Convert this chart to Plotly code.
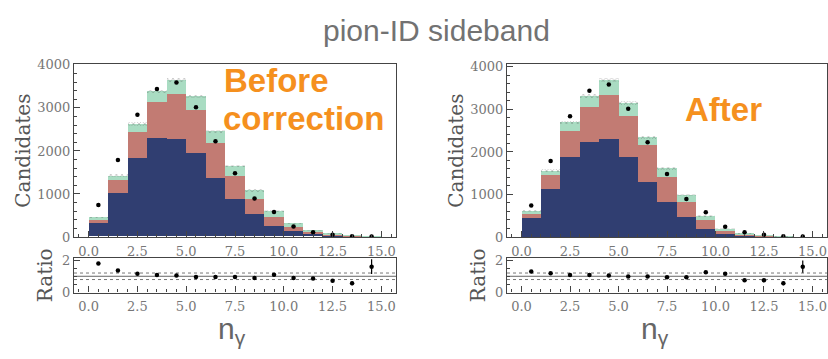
import plotly.graph_objects as go

# Photon multiplicity bins (unit width, 0..15)
bin_centers = [i + 0.5 for i in range(15)]

# Observed candidates per bin (same data in both panels)
data_counts = [743, 1790, 2839, 3440, 3589, 3017, 2227, 1481, 892, 582, 242, 112, 52, 15, 12]

# Simulation components before the correction
before_comp1 = [317, 1005, 1828, 2299, 2270, 1938, 1371, 863, 531, 251, 125, 66, 30, 10, 3]
before_comp2 = [74, 305, 604, 833, 1046, 995, 810, 554, 340, 207, 96, 44, 22, 10, 3]
before_comp3 = [52, 105, 184, 243, 332, 324, 266, 221, 199, 132, 89, 38, 22, 8, 3]
before_unc = [18, 28, 38, 42, 46, 42, 38, 32, 28, 22, 14, 9, 6, 4, 3]
before_ratio = [1.78, 1.35, 1.16, 1.08, 1.04, 0.96, 0.96, 0.96, 0.90, 1.10, 0.90, 0.86, 0.72, 0.57, 1.59]
before_ratio_err = [0.04, 0.03, 0.02, 0.02, 0.02, 0.02, 0.02, 0.02, 0.03, 0.04, 0.05, 0.06, 0.08, 0.12, 0.45]

# Simulation components after the correction
after_comp1 = [449, 1136, 1884, 2243, 2318, 1884, 1308, 845, 491, 204, 91, 53, 25, 10, 3]
after_comp2 = [112, 322, 621, 822, 1032, 980, 860, 566, 354, 211, 60, 22, 15, 8, 3]
after_comp3 = [60, 112, 202, 262, 351, 291, 187, 212, 159, 91, 53, 23, 12, 7, 2]
after_unc = [20, 30, 40, 44, 48, 44, 38, 32, 26, 20, 12, 8, 6, 4, 3]
after_ratio = [1.29, 1.18, 1.08, 1.08, 1.04, 0.98, 0.98, 0.94, 0.94, 1.25, 1.16, 0.76, 0.75, 0.57, 1.59]
after_ratio_err = [0.04, 0.03, 0.02, 0.02, 0.02, 0.02, 0.02, 0.02, 0.03, 0.05, 0.06, 0.06, 0.08, 0.12, 0.38]

x_ticks = [0, 2.5, 5, 7.5, 10, 12.5, 15]
x_ticktext = ["0.0", "2.5", "5.0", "7.5", "10.0", "12.5", "15.0"]
y_ticks = [0, 1000, 2000, 3000, 4000]
ratio_ticks = [0, 2]

C_BLUE = "#303e71"
C_RED = "#c27b73"
C_GREEN = "#a9dcc2"
FRAME = "#444444"
TICKFONT = dict(family="DejaVu Serif", size=13, color="#777777")

W, H = 828, 359


def px_x(p):
    return p / W


def px_y(p):
    return 1 - p / H


fig = go.Figure()


def add_panel(xa, ya, xr, yr, comps, unc, ratio, ratio_err):
    c1, c2, c3 = comps
    base2 = [a for a in c1]
    base3 = [a + b for a, b in zip(c1, c2)]
    total = [a + b + c for a, b, c in zip(c1, c2, c3)]
    common = dict(x=bin_centers, width=1.0, xaxis=xa, yaxis=ya, showlegend=False,
                  hoverinfo="skip")
    fig.add_trace(go.Bar(y=c1, base=[0] * len(c1), marker=dict(color=C_BLUE, line_width=0), **common))
    fig.add_trace(go.Bar(y=c2, base=base2, marker=dict(color=C_RED, line_width=0), **common))
    fig.add_trace(go.Bar(y=c3, base=base3, marker=dict(color=C_GREEN, line_width=0), **common))
    # hatched simulation uncertainty band around the stacked total
    fig.add_trace(go.Bar(y=[2 * u for u in unc], base=[t - u for t, u in zip(total, unc)],
                         marker=dict(color="rgba(0,0,0,0)", line_width=0,
                                     pattern=dict(shape="x", fgcolor="#4a4a4a", size=4,
                                                  solidity=0.25, fillmode="overlay")),
                         **common))
    fig.add_trace(go.Scatter(x=bin_centers, y=data_counts, mode="markers", xaxis=xa, yaxis=ya,
                             marker=dict(color="black", size=4.5), showlegend=False,
                             hoverinfo="skip"))
    # ratio panel
    fig.add_trace(go.Scatter(x=bin_centers, y=ratio, mode="markers", xaxis=xr, yaxis=yr,
                             marker=dict(color="black", size=4.5),
                             error_y=dict(type="data", array=ratio_err, color="black",
                                          thickness=1.2, width=0),
                             showlegend=False, hoverinfo="skip"))


add_panel("x", "y", "x2", "y2", (before_comp1, before_comp2, before_comp3), before_unc,
          before_ratio, before_ratio_err)
add_panel("x3", "y3", "x4", "y4", (after_comp1, after_comp2, after_comp3), after_unc,
          after_ratio, after_ratio_err)

xrange = [-0.75, 15.75]


def xaxis_cfg(dom, anchor):
    return dict(domain=dom, anchor=anchor, range=xrange, tickvals=x_ticks, ticktext=x_ticktext,
                ticks="inside", ticklen=6, tickwidth=1, tickcolor=FRAME,
                minor=dict(dtick=0.5, tick0=0, ticks="inside", ticklen=3, tickcolor=FRAME),
                showline=True, linecolor=FRAME, linewidth=1.3, mirror=True,
                showgrid=False, zeroline=False, tickfont=TICKFONT, ticklabelstandoff=2)


def yaxis_cfg(dom, anchor, rng, vals, minor_dt):
    return dict(domain=dom, anchor=anchor, range=rng, tickvals=vals,
                ticks="inside", ticklen=6, tickwidth=1, tickcolor=FRAME,
                minor=dict(dtick=minor_dt, tick0=0, ticks="inside", ticklen=3, tickcolor=FRAME),
                showline=True, linecolor=FRAME, linewidth=1.3, mirror=True,
                showgrid=False, zeroline=False, tickfont=TICKFONT)


left_dom = [px_x(74), px_x(396)]
right_dom = [px_x(507), px_x(827)]
main_dom_l = [px_y(240), px_y(60)]
main_dom_r = [px_y(240), px_y(59)]
ratio_dom = [px_y(298), px_y(262)]

fig.update_layout(
    width=W, height=H,
    margin=dict(l=0, r=0, t=0, b=0),
    paper_bgcolor="white", plot_bgcolor="white",
    barmode="overlay", bargap=0,
    xaxis=xaxis_cfg(left_dom, "y"),
    yaxis=yaxis_cfg(main_dom_l, "x", [0, 4010], y_ticks, 200),
    xaxis2=xaxis_cfg(left_dom, "y2"),
    yaxis2=yaxis_cfg(ratio_dom, "x2", [0, 2.12], ratio_ticks, 0.5),
    xaxis3=xaxis_cfg(right_dom, "y3"),
    yaxis3=yaxis_cfg(main_dom_r, "x3", [0, 4080], y_ticks, 200),
    xaxis4=xaxis_cfg(right_dom, "y4"),
    yaxis4=yaxis_cfg(ratio_dom, "x4", [0, 2.12], ratio_ticks, 0.5),
)

# reference lines in the ratio panels
for xr, yr in (("x2", "y2"), ("x4", "y4")):
    fig.add_shape(type="line", xref=f"{xr} domain", yref=yr, x0=0, x1=1, y0=1, y1=1,
                  line=dict(color="#666666", width=1), layer="below")
    for lvl in (0.8, 1.2):
        fig.add_shape(type="line", xref=f"{xr} domain", yref=yr, x0=0, x1=1, y0=lvl, y1=lvl,
                      line=dict(color="#777777", width=1, dash="dot"), layer="below")

label_font = dict(family="DejaVu Serif", size=20, color="#555555")
annotations = [
    dict(text="pion-ID sideband", x=px_x(436), y=px_y(25), xref="paper", yref="paper",
         showarrow=False, font=dict(family="Liberation Sans", size=30, color="#727272"),
         xanchor="center", yanchor="middle"),
    dict(text="Candidates", x=px_x(23), y=px_y(150), xref="paper", yref="paper",
         showarrow=False, textangle=-90, font=label_font, xanchor="center", yanchor="middle"),
    dict(text="Candidates", x=px_x(456), y=px_y(150), xref="paper", yref="paper",
         showarrow=False, textangle=-90, font=label_font, xanchor="center", yanchor="middle"),
    dict(text="Ratio", x=px_x(45), y=px_y(280), xref="paper", yref="paper",
         showarrow=False, textangle=-90, font=label_font, xanchor="center", yanchor="middle"),
    dict(text="Ratio", x=px_x(478), y=px_y(280), xref="paper", yref="paper",
         showarrow=False, textangle=-90, font=label_font, xanchor="center", yanchor="middle"),
    dict(text="n<sub>γ</sub>", x=px_x(232), y=px_y(338), xref="paper", yref="paper",
         showarrow=False, font=dict(family="Liberation Sans", size=30, color="#666666"),
         xanchor="center", yanchor="middle"),
    dict(text="n<sub>γ</sub>", x=px_x(655), y=px_y(338), xref="paper", yref="paper",
         showarrow=False, font=dict(family="Liberation Sans", size=30, color="#666666"),
         xanchor="center", yanchor="middle"),
    dict(text="<b>Before</b>", x=px_x(222), y=px_y(77), xref="paper", yref="paper",
         showarrow=False, font=dict(family="Liberation Sans", size=33, color="#f5901e"),
         xanchor="left", yanchor="middle"),
    dict(text="<b>correction</b>", x=px_x(221), y=px_y(116), xref="paper", yref="paper",
         showarrow=False, font=dict(family="Liberation Sans", size=33, color="#f5901e"),
         xanchor="left", yanchor="middle"),
    dict(text="<b>After</b>", x=px_x(683), y=px_y(107), xref="paper", yref="paper",
         showarrow=False, font=dict(family="Liberation Sans", size=33, color="#f5901e"),
         xanchor="left", yanchor="middle"),
]
fig.update_layout(annotations=annotations)

fig.write_html("out.html")
